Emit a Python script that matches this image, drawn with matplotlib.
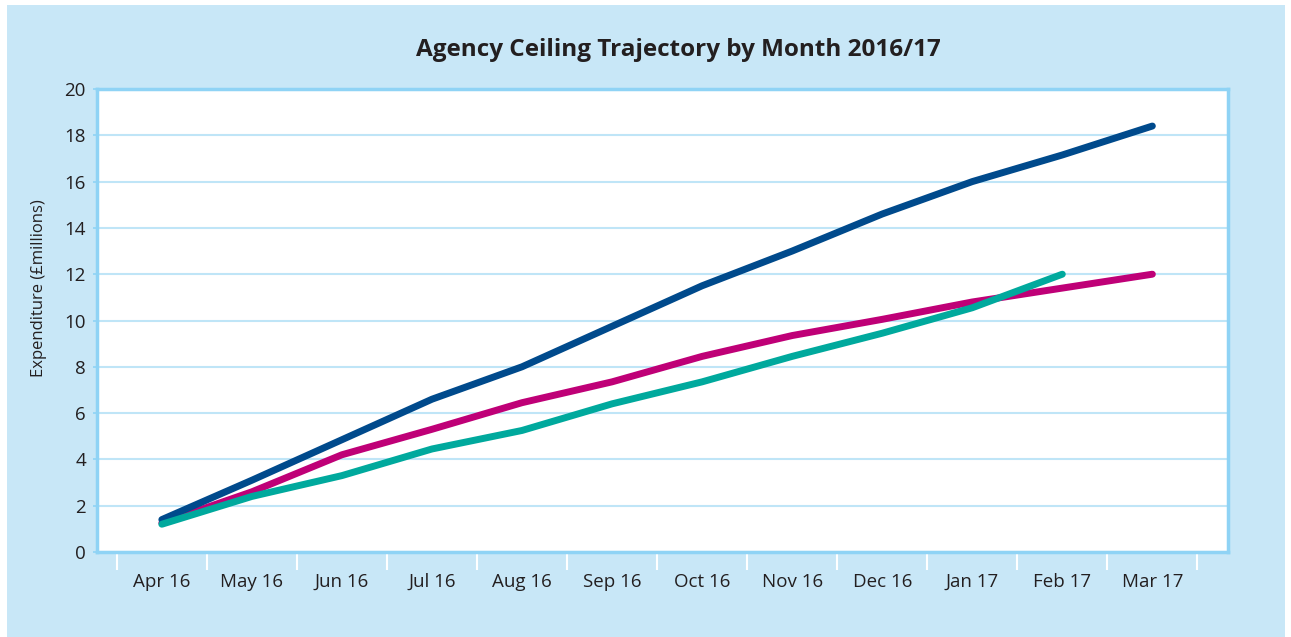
import matplotlib
matplotlib.use('Agg')
import matplotlib.pyplot as plt
from matplotlib.patches import Rectangle
from matplotlib.ticker import FixedLocator

plt.rcParams['font.family'] = ['Open Sans', 'DejaVu Sans']

MESES = ['Apr 16', 'May 16', 'Jun 16', 'Jul 16', 'Aug 16', 'Sep 16',
         'Oct 16', 'Nov 16', 'Dec 16', 'Jan 17', 'Feb 17', 'Mar 17']
SERIE_AZUL = [1.4, 3.1, 4.85, 6.6, 8.0, 9.75, 11.5, 13.0, 14.6, 16.0, 17.15, 18.4]
SERIE_MAGENTA = [1.25, 2.6, 4.2, 5.3, 6.45, 7.35, 8.45, 9.35, 10.05, 10.8, 11.4, 12.0]
SERIE_TURQUESA = [1.2, 2.4, 3.3, 4.45, 5.25, 6.4, 7.35, 8.45, 9.45, 10.55, 12.0]
Y_TICKS = [0, 2, 4, 6, 8, 10, 12, 14, 16, 18, 20]

AZUL = '#004a8c'
MAGENTA = '#bf0077'
TURQUESA = '#00a99d'
FONDO = '#c8e7f7'
BORDE = '#8fd3f5'
REJILLA = '#bfe5f7'
TEXTO = '#231f20'

fig = plt.figure(figsize=(12.91, 6.37), dpi=100, facecolor='white')

# marco azul claro de fondo
fig.patches.append(Rectangle((7 / 1291, 0), 1278 / 1291, 632 / 637,
                             transform=fig.transFigure, facecolor=FONDO,
                             edgecolor='none', zorder=-10))

ax = fig.add_axes([97 / 1291, 1 - 552 / 637, 1131 / 1291, 463 / 637])
ax.set_facecolor('white')

x = list(range(len(MESES)))
ax.plot(x, SERIE_MAGENTA, color=MAGENTA, lw=5, solid_capstyle='round',
        solid_joinstyle='round', zorder=3)
ax.plot(x, SERIE_AZUL, color=AZUL, lw=5, solid_capstyle='round',
        solid_joinstyle='round', zorder=4)
ax.plot(x[:len(SERIE_TURQUESA)], SERIE_TURQUESA, color=TURQUESA, lw=5,
        solid_capstyle='round', solid_joinstyle='round', zorder=5)

ax.set_xlim(-0.72, 11.84)
ax.set_ylim(0, 20)
ax.set_yticks(Y_TICKS)
ax.set_yticklabels([str(v) for v in Y_TICKS], fontsize=13.5, color=TEXTO)
ax.grid(axis='y', color=REJILLA, lw=1.5, zorder=1)
ax.set_axisbelow(True)

ax.set_xticks(x)
ax.set_xticklabels(MESES, fontsize=13.5, color=TEXTO)
ax.tick_params(axis='x', which='major', length=0, pad=15)
ax.xaxis.set_minor_locator(FixedLocator([i - 0.5 for i in range(len(MESES) + 1)]))
ax.tick_params(axis='x', which='minor', length=13, width=1.5, color='white',
               direction='out')
ax.tick_params(axis='y', length=3, width=1.2, color=BORDE, pad=5)

for lado in ax.spines.values():
    lado.set_color(BORDE)
    lado.set_linewidth(2.5)

ax.set_ylabel('Expenditure (£millions)', fontsize=12, color=TEXTO)
ax.yaxis.set_label_coords(-50 / 1131, (552 - 288) / 463)

fig.text(678 / 1291, 1 - 50 / 637, 'Agency Ceiling Trajectory by Month 2016/17',
         ha='center', va='center', fontsize=17.5, fontweight='bold', color=TEXTO)

fig.savefig('out.png', dpi=100, facecolor=fig.get_facecolor())
